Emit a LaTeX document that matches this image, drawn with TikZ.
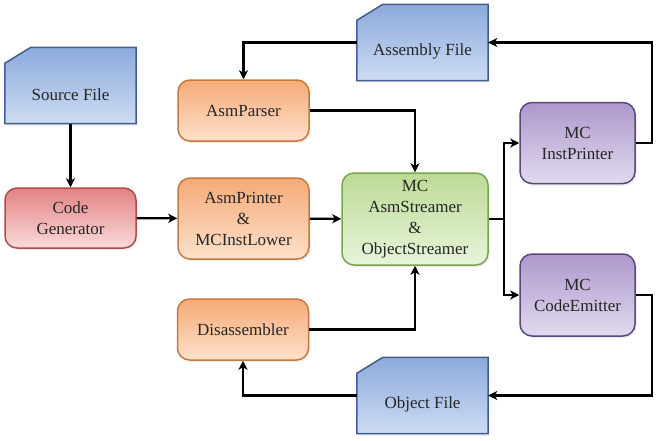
\documentclass[tikz,border=0pt]{standalone}
\usepackage{fontspec}
\setmainfont{Liberation Serif}
\usetikzlibrary{positioning}
\usetikzlibrary{calc,shadows,backgrounds}
\usetikzlibrary{arrows.meta}
\definecolor{filetop}{RGB}{140,170,220}
\definecolor{filebot}{RGB}{205,220,242}
\definecolor{fileline}{RGB}{65,95,140}
\definecolor{redtop}{RGB}{226,130,130}
\definecolor{redbot}{RGB}{250,218,218}
\definecolor{redline}{RGB}{175,75,75}
\definecolor{orgtop}{RGB}{246,170,120}
\definecolor{orgbot}{RGB}{253,225,202}
\definecolor{orgline}{RGB}{200,120,60}
\definecolor{grntop}{RGB}{188,218,150}
\definecolor{grnbot}{RGB}{232,244,218}
\definecolor{grnline}{RGB}{120,165,80}
\definecolor{purtop}{RGB}{172,152,204}
\definecolor{purbot}{RGB}{226,218,238}
\definecolor{purline}{RGB}{90,72,125}
\tikzstyle{block}=[rectangle,rounded corners=12pt,draw,line width=1.5pt,align=center,inner sep=0pt,font=\fontsize{17}{21}\selectfont,text=black!85,drop shadow={opacity=0.15,shadow xshift=1.5pt,shadow yshift=-2pt}]
\tikzstyle{redblock}=[block,top color=redtop,bottom color=redbot,draw=redline,minimum width=131pt,minimum height=60pt]
\tikzstyle{orgblock}=[block,top color=orgtop,bottom color=orgbot,draw=orgline,minimum width=131pt,minimum height=61pt]
\tikzstyle{grnblock}=[block,top color=grntop,bottom color=grnbot,draw=grnline,minimum width=146pt,minimum height=92pt]
\tikzstyle{purblock}=[block,top color=purtop,bottom color=purbot,draw=purline,minimum width=115pt,minimum height=81pt]
\tikzstyle{filebox}=[rectangle,inner sep=0pt,minimum width=131pt,minimum height=76pt]
\tikzstyle{filetext}=[font=\fontsize{17}{21}\selectfont,text=black!85,yshift=-9pt]
\tikzstyle{fileshape}=[draw=fileline,line width=1.5pt,top color=filetop,bottom color=filebot,drop shadow={opacity=0.15,shadow xshift=1.5pt,shadow yshift=-2pt}]
\tikzstyle{edge}=[draw,line width=2.2pt,-{Stealth[length=9pt,width=9pt,inset=2.5pt]}]

\begin{document}
\begin{tikzpicture}[x=1pt,y=-1pt]
  \useasboundingbox (0,0) rectangle (668,440);

  % files
  \node[filebox,label={[filetext]center:Source File}] (src) at (70.5,85.5) {};
  \node[filebox,label={[filetext]center:Assembly File}] (asm) at (422.5,42.5) {};
  \node[filebox,label={[filetext]center:Object File}] (obj) at (422.5,395.5) {};

  \begin{scope}[on background layer]
    \foreach \n in {src,asm,obj}
      \path[fileshape] ($(\n.north west)+(0,16)$) -- ($(\n.north west)+(26,0)$) -- (\n.north east)
        -- (\n.south east) -- (\n.south west) -- cycle;
  \end{scope}

  % blocks
  \node[redblock] (gen) at (70.5,218) {Code\\Generator};
  \node[orgblock] (parser) at (243.5,110.5) {AsmParser};
  \node[orgblock,minimum height=81pt] (printer) at (243.5,218.5) {AsmPrinter\\\&\\MCInstLower};
  \node[orgblock] (disasm) at (243,329.5) {Disassembler};
  \node[grnblock] (mc) at (415,219) {MC\\AsmStreamer\\\&\\ObjectStreamer};
  \node[purblock] (inst) at (577.5,143) {MC\\InstPrinter};
  \node[purblock,minimum height=82pt] (emit) at (577.5,295) {MC\\CodeEmitter};

  \coordinate (split) at (504,219);
  \coordinate (upright) at (652,143);
  \coordinate (downright) at (652,295);

  % connectors
  \path[edge] (src) -- (gen);
  \path[edge] (gen) -- (printer);
  \path[edge] (printer) -- (mc);
  \path[edge] (parser.east) -| (mc.north);
  \path[edge] (disasm.east) -| (mc.south);
  \path[edge] (mc.east) -- (split) |- (inst.west);
  \path[edge] (split) |- (emit.west);
  \path[edge] (inst.east) -- (upright) |- (asm.east);
  \path[edge] (emit.east) -- (downright) |- (obj.east);
  \path[edge] (asm.west) -| (parser.north);
  \path[edge] (obj.west) -| (disasm.south);

\end{tikzpicture}
\end{document}
